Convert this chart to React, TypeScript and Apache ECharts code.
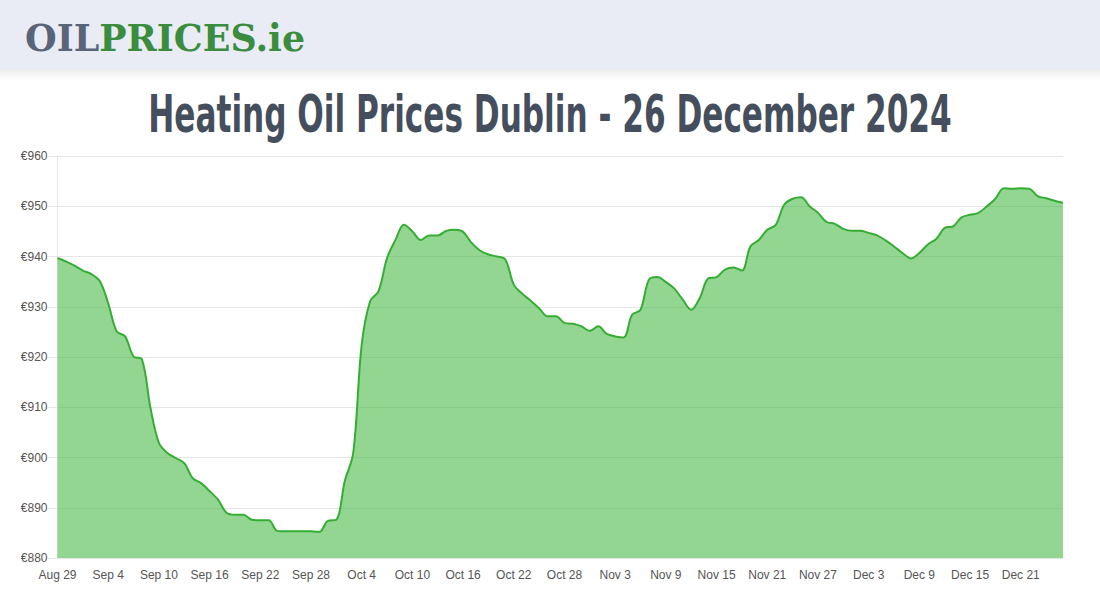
import React, { useEffect, useRef } from "react";
import * as echarts from "echarts";

// Daily prices (EUR) from Aug 29 to Dec 26, 2024
const augSep = [939.7, 939.0, 938.2, 937.2, 936.5, 935.1, 930.7, 925.1, 924.1, 920.1,
  919.5, 909.9, 902.9, 900.9, 899.9, 898.9, 895.9, 894.9, 893.3, 891.6,
  889.0, 888.6, 888.6, 887.6, 887.5, 887.5, 885.4, 885.3, 885.3, 885.3,
  885.3, 885.2, 887.4];
const octValues = [887.6, 895.3, 900.9, 922.4, 931.1, 933.1, 939.7,
  943.3, 946.3, 945.0, 943.3, 944.2, 944.2, 945.1, 945.3, 944.9, 942.7,
  941.2, 940.4, 940.0, 939.4, 934.4, 932.6, 931.2, 929.7, 928.1, 928.1,
  926.8, 926.6, 926.1, 925.2, 926.1];
const novValues = [924.6, 924.1, 923.9, 928.4, 929.4,
  935.4, 935.9, 934.9, 933.6, 931.4, 929.4, 931.7, 935.6, 935.9, 937.4,
  937.8, 937.2, 942.0, 943.3, 945.3, 946.3, 950.3, 951.5, 951.8, 950.0,
  948.7, 946.9, 946.5, 945.5, 945.1];
const decValues = [945.1, 944.7, 944.2, 943.2, 942.0,
  940.7, 939.6, 940.7, 942.4, 943.5, 945.7, 946.0, 947.8, 948.3, 948.7,
  950.0, 951.5, 953.6, 953.5, 953.6, 953.5, 952.0, 951.6, 951.1, 950.7];
const prices = [...augSep, ...octValues, ...novValues, ...decValues];

// Category labels: one per day
const monthNames = ["Aug", "Sep", "Oct", "Nov", "Dec"];
const monthStart = [29, 1, 1, 1, 1];
const monthEnd = [31, 30, 31, 30, 26];
const dates: string[] = [];
monthNames.forEach((m, k) => {
  for (let d = monthStart[k]; d <= monthEnd[k]; d++) dates.push(`${m} ${d}`);
});

const titleText = "Heating Oil Prices Dublin - 26 December 2024";
const yTicks = { min: 880, max: 960, interval: 10 };

function measure(text: string, font: string): number {
  const c = document.createElement("canvas").getContext("2d");
  if (!c) return text.length * 20;
  c.font = font;
  return c.measureText(text).width;
}

export default function App() {
  const ref = useRef<HTMLDivElement>(null);
  useEffect(() => {
    if (!ref.current) return;
    const chart = echarts.init(ref.current, null, { renderer: "svg" });

    const titleFont = "bold 52px 'Liberation Sans Narrow', 'DejaVu Sans Condensed', sans-serif";
    const tw = measure(titleText, titleFont);
    const titleScale = 804 / tw;

    const logoFont = "bold 38px 'DejaVu Serif', serif";
    const lw = measure("OILPRICES.ie", logoFont);
    const logoScale = 280 / lw;

    chart.setOption({
      animation: false,
      backgroundColor: "#ffffff",
      grid: { left: 57.5, right: 37, top: 156, bottom: 42, containLabel: false },
      graphic: [
        {
          type: "rect",
          shape: { x: 0, y: 0, width: 1100, height: 70 },
          style: { fill: "#e9ecf4" },
          silent: true,
        },
        {
          type: "rect",
          shape: { x: 0, y: 70, width: 1100, height: 10 },
          style: {
            fill: new echarts.graphic.LinearGradient(0, 0, 0, 1, [
              { offset: 0, color: "rgba(0,0,0,0.07)" },
              { offset: 1, color: "rgba(0,0,0,0)" },
            ]),
          },
          silent: true,
        },
        {
          type: "text",
          x: 25,
          y: 38,
          scaleX: logoScale,
          style: {
            text: "{a|OIL}{b|PRICES.ie}",
            verticalAlign: "middle",
            align: "left",
            rich: {
              a: { fill: "#5a6478", font: logoFont },
              b: { fill: "#3a8c3f", font: logoFont },
            },
          },
        },
        {
          type: "text",
          x: 550,
          y: 114,
          scaleX: titleScale,
          style: {
            text: titleText,
            font: titleFont,
            fill: "#454e5d",
            align: "center",
            verticalAlign: "middle",
          },
        },
      ],
      xAxis: {
        type: "category",
        data: dates,
        boundaryGap: false,
        axisLine: { show: true, lineStyle: { color: "#e6e6e6" } },
        axisTick: { show: false },
        axisLabel: {
          interval: 5,
          color: "#555555",
          fontSize: 12,
          fontFamily: "'Liberation Sans', Arial, sans-serif",
          margin: 11,
        },
        splitLine: { show: false },
      },
      yAxis: {
        type: "value",
        min: yTicks.min,
        max: yTicks.max,
        interval: yTicks.interval,
        axisLine: { show: true, lineStyle: { color: "#e6e6e6" } },
        axisTick: { show: true, length: 9, lineStyle: { color: "#e6e6e6" } },
        axisLabel: {
          formatter: "€{value}",
          color: "#555555",
          fontSize: 12,
          fontFamily: "'Liberation Sans', Arial, sans-serif",
          margin: 10,
        },
        splitLine: { show: true, lineStyle: { color: "#e6e6e6", width: 1 } },
      },
      series: [
        {
          type: "line",
          data: prices,
          smooth: 0.35,
          showSymbol: false,
          symbol: "none",
          lineStyle: { color: "#35ad35", width: 2 },
          areaStyle: { color: "rgba(57,180,57,0.55)", opacity: 1, origin: "start" },
        },
      ],
    });
    return () => chart.dispose();
  }, []);
  return (
    <div
      ref={ref}
      style={{ position: "fixed", left: 0, top: 0, width: 1100, height: 600 }}
    />
  );
}
